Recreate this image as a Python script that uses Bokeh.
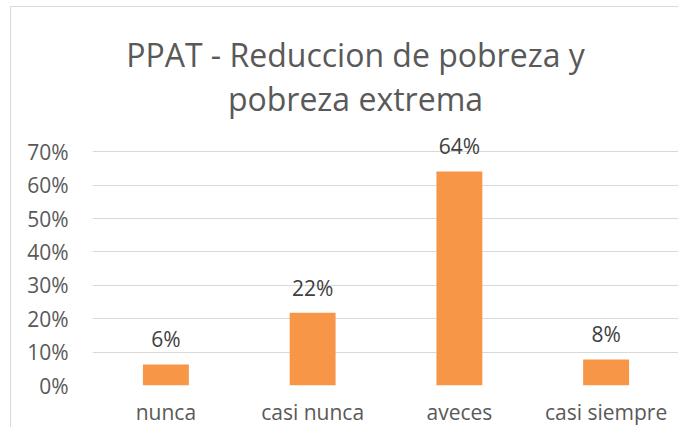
from bokeh.plotting import figure
from bokeh.models import Range1d, FixedTicker, NumeralTickFormatter, ColumnDataSource
from bokeh.core.properties import value
from bokeh.embed import file_html
from bokeh.resources import INLINE

categories = ["nunca", "casi nunca", "aveces", "casi siempre"]
shares = [0.063, 0.218, 0.641, 0.078]
y_ticks = [0.0, 0.1, 0.2, 0.3, 0.4, 0.5, 0.6, 0.7]
title_lines = ["PPAT - Reduccion de pobreza y", "pobreza extrema"]

FONT = "Open Sans"
BAR_COLOR = "#F79646"
GRID_COLOR = "#D9D9D9"
TEXT_COLOR = "#595959"

xpos = [i + 0.5 for i in range(len(categories))]
labels = [f"{round(v * 100)}%" for v in shares]
src = ColumnDataSource(dict(x=xpos, top=shares, label=labels))

p = figure(width=668, height=421, output_backend="svg", toolbar_location=None,
           x_range=Range1d(0, len(categories)), y_range=Range1d(0, 1.132),
           min_border_left=81, min_border_right=0, min_border_top=0, min_border_bottom=41)
p.styles = {"margin-left": "10px", "margin-top": "6px",
            "border-left": "1px solid #D9D9D9", "border-top": "1px solid #D9D9D9"}
p.outline_line_color = None
p.background_fill_color = "white"
p.border_fill_color = "white"

p.vbar(x="x", top="top", width=0.313, bottom=0, source=src, fill_color=BAR_COLOR, line_color=None)
p.text(x="x", y="top", text="label", source=src, text_align="center", text_baseline="alphabetic",
       y_offset=-25, text_font=value(FONT), text_font_size="21px", text_color="#404040")

title_x = [1.792, 1.792]
title_y = [0.99, 0.86]
p.text(x=title_x, y=title_y, text=title_lines, text_align="center", text_baseline="alphabetic",
       text_font=value(FONT), text_font_size="32px", text_color=TEXT_COLOR)

# axes
p.xaxis.ticker = FixedTicker(ticks=xpos)
p.xaxis.major_label_overrides = {x: c for x, c in zip(xpos, categories)}
p.xaxis.axis_line_color = None
p.xaxis.major_tick_line_color = None
p.xaxis.minor_tick_line_color = None
p.xaxis.major_tick_out = 0
p.xaxis.major_tick_in = 0
p.xaxis.major_label_standoff = 12
p.xaxis.major_label_text_font = FONT
p.xaxis.major_label_text_font_size = "21px"
p.xaxis.major_label_text_color = TEXT_COLOR

p.yaxis.ticker = FixedTicker(ticks=y_ticks)
p.yaxis.formatter = NumeralTickFormatter(format="0%")
p.yaxis.axis_line_color = None
p.yaxis.major_tick_line_color = None
p.yaxis.minor_tick_line_color = None
p.yaxis.major_tick_out = 0
p.yaxis.major_tick_in = 0
p.yaxis.major_label_standoff = 24
p.yaxis.major_label_text_font = FONT
p.yaxis.major_label_text_font_size = "21px"
p.yaxis.major_label_text_color = TEXT_COLOR

p.xgrid.grid_line_color = None
p.ygrid.grid_line_color = GRID_COLOR
p.ygrid.grid_line_width = 1
p.ygrid.ticker = FixedTicker(ticks=y_ticks)

open("out.html", "w").write(file_html(p, INLINE))
